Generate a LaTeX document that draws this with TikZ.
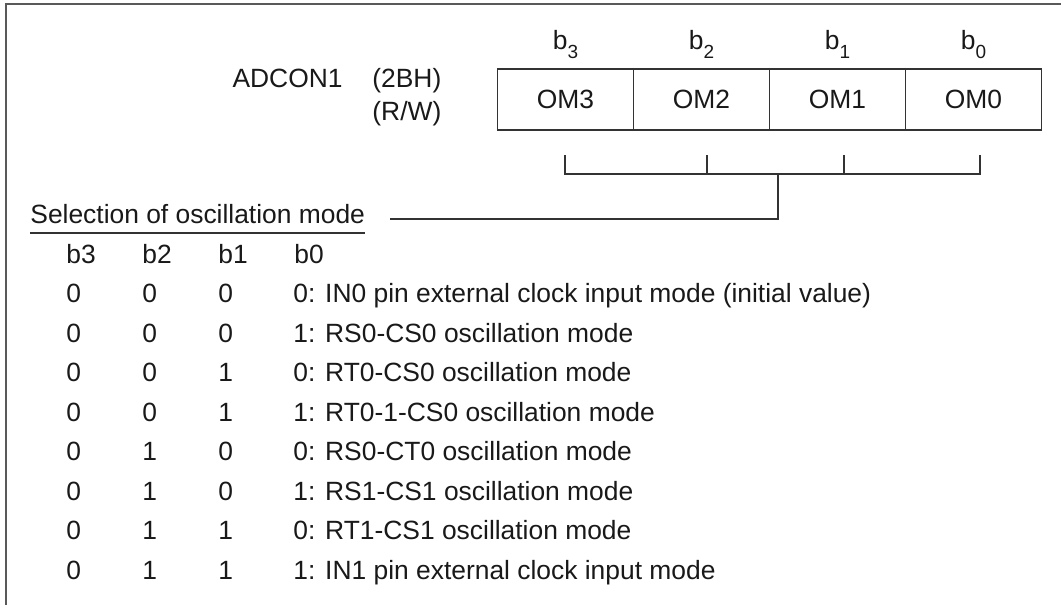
\documentclass[tikz,border=0pt]{standalone}
\usepackage{fontspec}
\setmainfont{Liberation Sans}
\usetikzlibrary{positioning}

\tikzset{
  cell/.style={draw=black!80, line width=0.65pt, minimum width=68pt, minimum height=30.5pt, inner sep=0pt, outer sep=0pt},
  txt/.style={anchor=base west, inner sep=0pt, text=black!90},
  wire/.style={draw=black!80, line width=0.65pt},
}

\begin{document}
\begin{tikzpicture}[x=0.5pt, y=-0.5pt, every node/.style={font=\fontsize{13.2}{15}\selectfont, text=black!90}]
  \useasboundingbox (0,0) rectangle (1061,605);

  % 1. frame (top and left only)
  \draw[wire, draw=black!65] (1061,4) -- (6,4) -- (6,605);

  % 2. register ADCON1
  \node[anchor=base east, inner sep=0pt] (reg) at (343,87) {ADCON1};
  \node[txt] (addr) at (372,87) {(2BH)};
  \node[txt] (rw) at (372,120) {(R/W)};
  \node[cell] (om3) at (565.5,99.5) {OM3};
  \node[cell, right=0pt of om3] (om2) {OM2};
  \node[cell, right=0pt of om2] (om1) {OM1};
  \node[cell, right=0pt of om1] (om0) {OM0};
  \foreach \n/\k in {om3/3, om2/2, om1/1, om0/0}
    \node[anchor=base, inner sep=0pt] (b\k) at (\n |- 0,49) {b\raisebox{-4.5pt}{\fontsize{9.5}{10}\selectfont\k}};

  % 3. bracket to the selection label
  \coordinate (t3) at (565,155);
  \coordinate (t2) at (707,155);
  \coordinate (t1) at (844,155);
  \coordinate (t0) at (980,155);
  \coordinate (selend) at (390,219);
  \draw[wire] (t3) -- (t3 |- 0,174) -- (t0 |- 0,174) -- (t0);
  \draw[wire] (t2) -- (t2 |- 0,174);
  \draw[wire] (t1) -- (t1 |- 0,174);
  \draw[wire] (778,174) -- (778,219) -- (selend);

  % 4. table of modes
  \node[txt] (sel) at (30,223) {Selection of oscillation mode};
  \draw[wire] ([yshift=-5pt]sel.base west) -- ([yshift=-5pt]sel.base east);
  \foreach \t [count=\i from 0] in {b3, b2, b1, b0}
    \node[txt] (h\i) at ({66+76*\i},263) {\t};
  \foreach \a/\bb/\c/\d/\m [count=\r] in {
      0/0/0/0/IN0 pin external clock input mode (initial value),
      0/0/0/1/RS0-CS0 oscillation mode,
      0/0/1/0/RT0-CS0 oscillation mode,
      0/0/1/1/RT0-1-CS0 oscillation mode,
      0/1/0/0/RS0-CT0 oscillation mode,
      0/1/0/1/RS1-CS1 oscillation mode,
      0/1/1/0/RT1-CS1 oscillation mode,
      0/1/1/1/IN1 pin external clock input mode}{
    \node[txt] (r\r-3) at (66,{263+39.5*\r}) {\a};
    \node[txt] (r\r-2) at (142,{263+39.5*\r}) {\bb};
    \node[txt] (r\r-1) at (218,{263+39.5*\r}) {\c};
    \node[txt] (r\r-0) at (293,{263+39.5*\r}) {\d: \m};
  }
\end{tikzpicture}
\end{document}
